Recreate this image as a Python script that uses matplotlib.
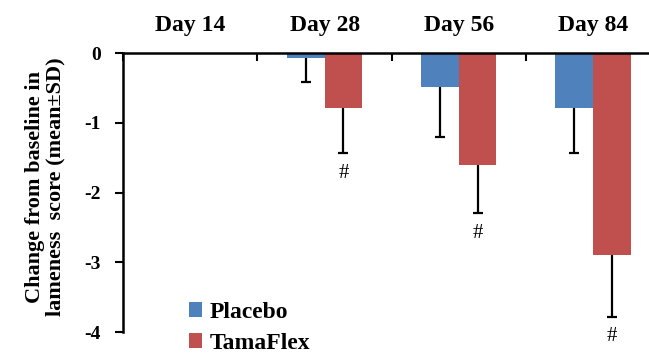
import numpy as np
import matplotlib
matplotlib.use("Agg")
import matplotlib.pyplot as plt

# values
days = ["Day 14", "Day 28", "Day 56", "Day 84"]
placebo = [0.0, -0.07, -0.49, -0.79]
placebo_sd = [0.0, 0.34, 0.72, 0.64]
tamaflex = [0.0, -0.79, -1.60, -2.90]
tamaflex_sd = [0.0, 0.64, 0.70, 0.88]
sig_mark = ["", "#", "#", "#"]

plt.rcParams['font.family'] = ['Liberation Serif', 'DejaVu Serif']

fig = plt.figure(figsize=(6.49, 3.54), dpi=100)
ax = fig.add_axes([0.19, 0.062, 0.827, 0.788])

x = np.arange(len(days))
w = 0.28
cap = 0.037
blue = "#4F81BD"
red = "#C0504D"

ax.bar(x - w / 2, placebo, w, color=blue, label="Placebo", zorder=2)
ax.bar(x + w / 2, tamaflex, w, color=red, label="TamaFlex", zorder=2)

# downward-only error bars with a cap at the lower end (Day 14 has none)
for i in range(1, len(days)):
    for xc, val, sd in [(x[i] - w / 2, placebo[i], placebo_sd[i]),
                        (x[i] + w / 2, tamaflex[i], tamaflex_sd[i])]:
        ax.vlines(xc, val - sd, val, color="black", lw=1.6, zorder=3)
        ax.hlines(val - sd, xc - cap, xc + cap, color="black", lw=1.6,
                  zorder=3)
    ax.text(x[i] + w / 2, tamaflex[i] - tamaflex_sd[i] - 0.29, sig_mark[i],
            ha="center", va="center", fontsize=15)

ax.set_xlim(-0.5, len(days) - 0.5)
ax.set_ylim(-4, 0)
ax.set_yticks([0, -1, -2, -3, -4])
ax.set_yticklabels(["0", "-1", "-2", "-3", "-4"], fontsize=14,
                   fontweight="bold")

# category labels on top, ticks at category boundaries
ax.xaxis.set_ticks_position("top")
ax.set_xticks(np.arange(len(days) + 1) - 0.5)
ax.set_xticklabels([])
ax.set_xticks(x, minor=True)
ax.set_xticklabels(days, minor=True, fontsize=17, fontweight="bold")
ax.tick_params(axis="x", which="major", direction="in", length=6, width=1.5)
ax.tick_params(axis="x", which="minor", length=0, pad=12.5)
ax.tick_params(axis="y", direction="out", length=6, width=1.5, pad=10)

ax.spines["bottom"].set_visible(False)
ax.spines["right"].set_visible(False)
ax.spines["top"].set_linewidth(1.8)
ax.spines["left"].set_linewidth(1.8)

ax.set_ylabel("Change from baseline in\nlameness  score (mean\u00b1SD)",
              fontsize=16, fontweight="bold", linespacing=1.05)
ax.yaxis.set_label_coords(-0.108, 0.52)

ax.legend(loc="center left", bbox_to_anchor=(0.259, 0.074),
          bbox_transform=fig.transFigure, frameon=False,
          prop={"size": 17, "weight": "bold"}, handlelength=0.55,
          handleheight=0.55, handletextpad=0.3, labelspacing=0.42)

fig.savefig("out.png", dpi=100)
